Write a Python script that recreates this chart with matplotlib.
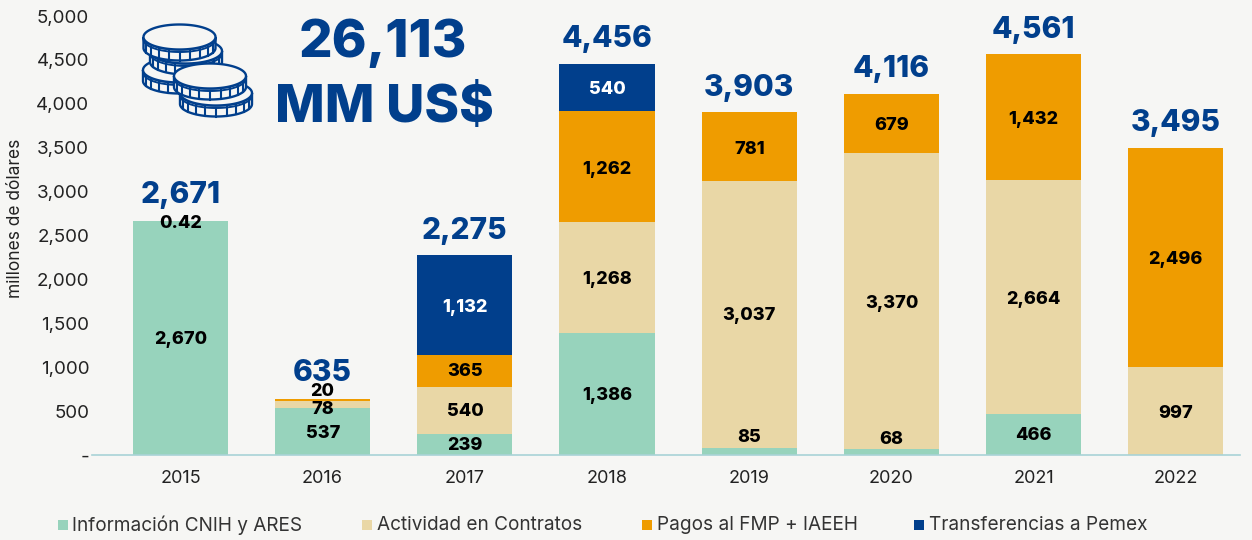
import matplotlib
matplotlib.use("Agg")
import matplotlib.pyplot as plt
from matplotlib.patches import Rectangle
import numpy as np

years = ["2015","2016","2017","2018","2019","2020","2021","2022"]
info = [2670,537,239,1386,85,68,466,0]
actividad = [0.42,78,540,1268,3037,3370,2664,997]
pagos = [0,20,365,1262,781,679,1432,2496]
transfer = [0,0,1132,540,0,0,0,0]
totals = ["2,671","635","2,275","4,456","3,903","4,116","4,561","3,495"]
series_names = ["Información CNIH y ARES","Actividad en Contratos","Pagos al FMP + IAEEH","Transferencias a Pemex"]
yticks = [0,500,1000,1500,2000,2500,3000,3500,4000,4500,5000]
ylabels = ["-","500","1,000","1,500","2,000","2,500","3,000","3,500","4,000","4,500","5,000"]
colors = ["#97D3BC","#E9D7A6","#EF9C00","#013F8C"]
bg = "#F6F6F4"
navy = "#013F8C"
dark = "#222222"
plt.rcParams['font.family'] = ['Inter','DejaVu Sans']

fig = plt.figure(figsize=(12.52,5.40), dpi=100, facecolor=bg)
ax = fig.add_axes([92/1252, 1-455/540, (1240-92)/1252, (455-16)/540], facecolor=bg)
x = np.arange(8)
bottom = np.zeros(8)
for vals,c in zip([info,actividad,pagos,transfer],colors):
    ax.bar(x,vals,width=0.67,bottom=bottom,color=c,linewidth=0)
    bottom += np.array(vals,dtype=float)
ax.set_xlim(-0.622,7.452)
ax.set_ylim(0,5000)
ax.set_yticks(yticks,ylabels,fontsize=13.5,color=dark)
ax.set_xticks(x,years,fontsize=13,color=dark)
ax.tick_params(axis='x',length=0,pad=11)
ax.tick_params(axis='y',length=0,pad=2)
for s in ['top','right','left']:
    ax.spines[s].set_visible(False)
ax.spines['bottom'].set_color("#A9D3D6")
ax.spines['bottom'].set_linewidth(1.2)

ov = fig.add_axes([0,0,1,1],facecolor='none')
ov.set_xlim(0,1252); ov.set_ylim(540,0); ov.axis('off')
ov.text(16,218,"millones de dólares",rotation=90,fontsize=12.5,color=dark,ha='center',va='center')

labels = [
 (0,338,"2,670"),(0,221,"0.42"),
 (1,431,"537"),(1,408,"78"),(1,390,"20"),
 (2,444,"239"),(2,410,"540"),(2,370,"365"),(2,305,"1,132","white"),
 (3,394,"1,386"),(3,278,"1,268"),(3,167,"1,262"),(3,88,"540","white"),
 (4,436,"85"),(4,314,"3,037"),(4,147,"781"),
 (5,437,"68"),(5,301,"3,370"),(5,124,"679"),
 (6,433,"466"),(6,297,"2,664"),(6,118,"1,432"),
 (7,411,"997"),(7,258,"2,496"),
]
px = lambda i: 180.5+142.2*i
for l in labels:
    i,y,t = l[:3]; c = l[3] if len(l)>3 else "black"
    ov.text(px(i),y,t,ha='center',va='center_baseline',fontsize=13,fontweight='heavy',color=c)
total_rows = [192,370,228,36,85,66,27,120]
for i,(y,t) in enumerate(zip(total_rows,totals)):
    ov.text(px(i),y,t,ha='center',va='center_baseline',fontsize=21.5,fontweight='heavy',color=navy)

ov.text(383,38,"26,113",ha='center',va='center_baseline',fontsize=38,fontweight='heavy',color=navy)
ov.text(384,103,"MM US$",ha='center',va='center_baseline',fontsize=38,fontweight='heavy',color=navy)

def coin(cx,cy,w=72,h=25,d=11):
    t = np.linspace(0,2*np.pi,120)
    ex = cx+w/2*np.cos(t); ey = h/2*np.sin(t)
    low = np.linspace(0,np.pi,60)
    lx = cx+w/2*np.cos(low); ly = h/2*np.sin(low)
    ov.fill(np.r_[lx,lx[::-1]],np.r_[cy+ly,cy+d+ly[::-1]],fc=bg,ec=navy,lw=1.7,zorder=3)
    for a in np.linspace(0.12,0.88,9)*np.pi:
        xx = cx+w/2*np.cos(a); yy = h/2*np.sin(a)
        ov.plot([xx,xx],[cy+yy+2,cy+d+yy],color=navy,lw=1.5,zorder=3)
    ov.plot(lx,cy+2.5+ly,color=navy,lw=1.4,zorder=3)
    ov.fill(ex,cy+ey,fc=bg,ec=navy,lw=1.7,zorder=3)
for c in [(179,70),(186,51),(179.5,37),(216,93),(210,76)]:
    coin(*c)

items = [(58,72),(362,377),(642,657),(914,929)]
for (sx,tx),n,c in zip(items,series_names,colors):
    ov.add_patch(Rectangle((sx,520),10,10,fc=c,ec='none'))
    ov.text(tx,525,n,fontsize=13.7,color="#333333",va='center',ha='left')
fig.savefig("out.png",dpi=100,facecolor=bg)
